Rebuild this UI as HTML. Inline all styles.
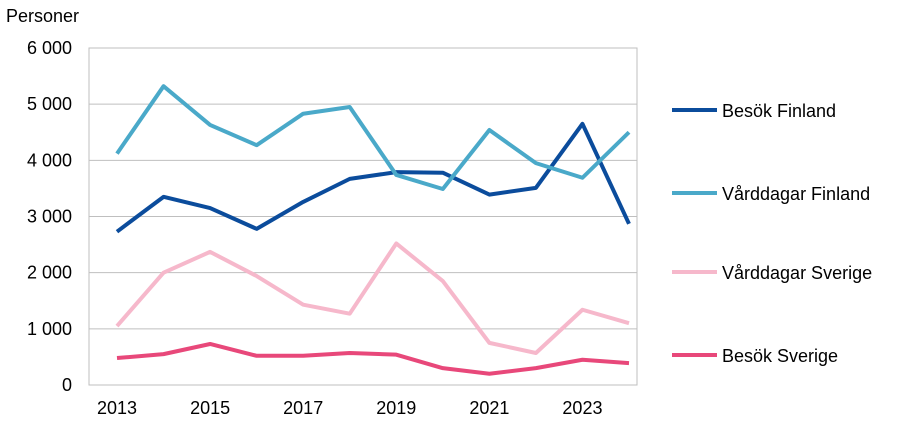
<!DOCTYPE html>
<html><head><meta charset="utf-8"><style>
body{margin:0;background:#fff;width:901px;height:426px;overflow:hidden;font-family:"Liberation Sans",sans-serif}
</style></head><body>
<svg id="chart" width="901" height="426" xmlns="http://www.w3.org/2000/svg" font-family="Liberation Sans, sans-serif">
<text x="6" y="22" font-size="18" fill="#000">Personer</text>
<g id="grid"></g><g id="series"></g><g id="legend"></g>
</svg>
<script>
const years=[2013,2014,2015,2016,2017,2018,2019,2020,2021,2022,2023,2024];
const yTicks=[0,1000,2000,3000,4000,5000,6000];
const xLabels=[2013,2015,2017,2019,2021,2023];
const besokFinland=[2730,3350,3150,2780,3260,3670,3790,3780,3390,3510,4650,2870];
const varddagarFinland=[4120,5320,4630,4270,4830,4950,3740,3490,4540,3950,3690,4500];
const varddagarSverige=[1050,2000,2370,1940,1430,1270,2520,1850,750,570,1340,1100];
const besokSverige=[480,550,730,520,520,570,540,300,200,300,450,390];
const seriesNames=["Besök Finland","Vårddagar Finland","Vårddagar Sverige","Besök Sverige"];
const ns="http://www.w3.org/2000/svg";
const L=89,R=637,T=48,B=385;
const x=y=>117+(y-2013)*(629-117)/11;
const yS=v=>B-(v/6000)*(B-T);
function mk(t,a,p){const e=document.createElementNS(ns,t);for(const k in a)e.setAttribute(k,a[k]);p.appendChild(e);return e;}
const grid=document.getElementById('grid');
yTicks.forEach(v=>{
 const l=mk('line',{x1:L,x2:R,y1:yS(v),y2:yS(v),stroke:v===0?'#888':'#bfbfbf','stroke-width':1},grid);
 
 
 const t=mk('text',{x:72,y:yS(v)+6,'text-anchor':'end','font-size':18,fill:'#000'},grid);
 t.textContent=v===0?'0':(Math.floor(v/1000)+' '+String(v%1000).padStart(3,'0'));
 
 
});
const ax=mk('line',{x1:L,x2:L,y1:T,y2:B,stroke:'#888'},grid);


const bx=mk('rect',{x:L,y:T,width:R-L,height:B-T,fill:'none',stroke:'#bfbfbf'},grid);


xLabels.forEach(yr=>{
 const t=mk('text',{x:x(yr),y:414,'text-anchor':'middle','font-size':18,fill:'#000'},grid);
 t.textContent=yr;
 
 
});
const data=[besokFinland,varddagarFinland,varddagarSverige,besokSverige];
const colors=["#0b4c9c","#4aa9c9","#f6b8cb","#e8487a"];
const legY=[110,193,272,355];
const sg=document.getElementById('series'),lg=document.getElementById('legend');
data.forEach((d,i)=>{
 const p=mk('polyline',{points:d.map((v,j)=>x(years[j])+','+yS(v)).join(' '),fill:'none',stroke:colors[i],'stroke-width':4,'stroke-linejoin':'round'},sg);
 
 
 const ll=mk('line',{x1:672,x2:717,y1:legY[i],y2:legY[i],stroke:colors[i],'stroke-width':4},lg);
 
 
 const t=mk('text',{x:722,y:legY[i]+7,'font-size':18,fill:'#000'},lg);
 t.textContent=seriesNames[i];
 
 
});
</script>
</body></html>
